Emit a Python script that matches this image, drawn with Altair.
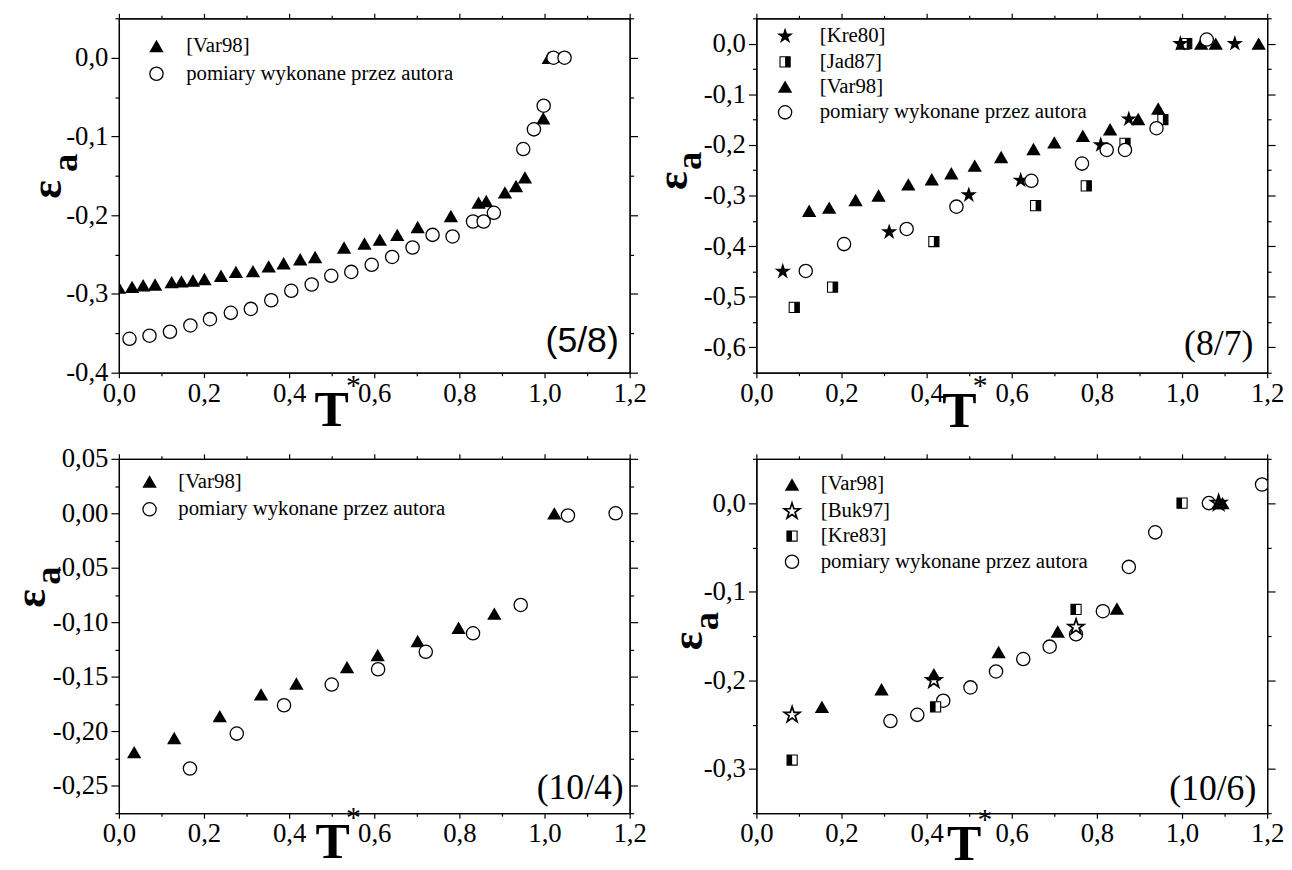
import altair as alt
import pandas as pd

SERIF = "Liberation Serif"
SANS = "Liberation Sans"

# ---------------- data ----------------
# panel (5/8)
p58_var98_T = [0.000, 0.031, 0.057, 0.085, 0.124, 0.147, 0.174, 0.201, 0.240, 0.275, 0.315, 0.352, 0.387, 0.426,
               0.461, 0.529, 0.577, 0.613, 0.654, 0.702, 0.780, 0.845, 0.863, 0.907, 0.933, 0.954, 0.997, 1.010]
p58_var98_eps = [-0.292, -0.291, -0.289, -0.288, -0.285, -0.284, -0.283, -0.281, -0.277, -0.272, -0.271, -0.265,
                 -0.261, -0.256, -0.253, -0.241, -0.236, -0.231, -0.225, -0.215, -0.201, -0.184, -0.182, -0.171,
                 -0.163, -0.152, -0.077, 0.000]
p58_own_T = [0.025, 0.072, 0.120, 0.168, 0.214, 0.263, 0.310, 0.358, 0.405, 0.453, 0.499, 0.546, 0.594, 0.642,
             0.690, 0.737, 0.784, 0.832, 0.857, 0.881, 0.950, 0.975, 0.998, 1.021, 1.047]
p58_own_eps = [-0.357, -0.353, -0.348, -0.340, -0.332, -0.324, -0.319, -0.308, -0.296, -0.288, -0.277, -0.272,
               -0.263, -0.253, -0.241, -0.225, -0.227, -0.208, -0.208, -0.197, -0.116, -0.091, -0.061, 0.000, 0.000]

# panel (8/7)
p87_kre80_T = [0.062, 0.312, 0.499, 0.621, 0.809, 0.875, 0.996, 1.124]
p87_kre80_eps = [-0.450, -0.372, -0.299, -0.270, -0.200, -0.149, 0.000, 0.000]
p87_jad87_T = [0.089, 0.179, 0.417, 0.656, 0.775, 0.866, 0.955, 1.011]
p87_jad87_eps = [-0.521, -0.481, -0.391, -0.320, -0.281, -0.197, -0.150, 0.000]
p87_var98_T = [0.124, 0.171, 0.233, 0.287, 0.357, 0.412, 0.458, 0.513, 0.575, 0.651, 0.700, 0.767, 0.831, 0.897,
               0.944, 1.002, 1.045, 1.079, 1.180]
p87_var98_eps = [-0.330, -0.324, -0.309, -0.300, -0.278, -0.268, -0.256, -0.241, -0.224, -0.208, -0.195, -0.182,
                 -0.169, -0.149, -0.128, 0.000, 0.000, 0.000, 0.000]
p87_own_T = [0.116, 0.206, 0.353, 0.470, 0.646, 0.765, 0.823, 0.866, 0.940, 1.058]
p87_own_eps = [-0.449, -0.396, -0.366, -0.322, -0.271, -0.237, -0.210, -0.210, -0.167, 0.008]

# panel (10/4)
p104_var98_T = [0.036, 0.130, 0.237, 0.334, 0.417, 0.536, 0.608, 0.702, 0.798, 0.882, 1.023]
p104_var98_eps = [-0.219, -0.206, -0.186, -0.166, -0.156, -0.141, -0.130, -0.117, -0.105, -0.092, 0.000]
p104_own_T = [0.167, 0.277, 0.388, 0.500, 0.609, 0.721, 0.832, 0.944, 1.055, 1.167]
p104_own_eps = [-0.234, -0.202, -0.176, -0.157, -0.143, -0.127, -0.110, -0.084, -0.002, 0.000]

# panel (10/6)
p106_var98_T = [0.154, 0.294, 0.417, 0.569, 0.708, 0.847, 1.085, 1.095]
p106_var98_eps = [-0.230, -0.210, -0.193, -0.168, -0.145, -0.119, 0.000, 0.000]
p106_buk97_T = [0.084, 0.417, 0.751, 1.086]
p106_buk97_eps = [-0.239, -0.200, -0.140, 0.000]
p106_kre83_T = [0.084, 0.421, 0.751, 1.000]
p106_kre83_eps = [-0.290, -0.230, -0.120, 0.000]
p106_own_T = [0.315, 0.378, 0.439, 0.503, 0.563, 0.627, 0.689, 0.751, 0.814, 0.875, 0.937, 1.063, 1.188]
p106_own_eps = [-0.246, -0.239, -0.223, -0.208, -0.190, -0.176, -0.162, -0.148, -0.122, -0.072, -0.033, 0.000,
                0.021]

# tick values / labels
T_MAJOR = [0.0, 0.2, 0.4, 0.6, 0.8, 1.0, 1.2]
T_MINOR = [0.1, 0.3, 0.5, 0.7, 0.9, 1.1]
p58_y_major = [0.0, -0.1, -0.2, -0.3, -0.4]
p58_y_minor = [0.05, -0.05, -0.15, -0.25, -0.35]
p87_y_major = [0.0, -0.1, -0.2, -0.3, -0.4, -0.5, -0.6]
p87_y_minor = [0.05, -0.05, -0.15, -0.25, -0.35, -0.45, -0.55, -0.65]
p104_y_major = [0.05, 0.0, -0.05, -0.10, -0.15, -0.20, -0.25]
p104_y_minor = [0.025, -0.025, -0.075, -0.125, -0.175, -0.225, -0.275]
p106_y_major = [0.0, -0.1, -0.2, -0.3]
p106_y_minor = [0.05, -0.05, -0.15, -0.25, -0.35]

LBL_VAR98 = "[Var98]"
LBL_KRE80 = "[Kre80]"
LBL_JAD87 = "[Jad87]"
LBL_BUK97 = "[Buk97]"
LBL_KRE83 = "[Kre83]"
LBL_OWN = "pomiary wykonane przez autora"

# ---------------- styles ----------------
STAR_PATH = ("M0,-1L0.225,-0.309L0.951,-0.309L0.363,0.118L0.588,0.809L0,0.382"
             "L-0.588,0.809L-0.363,0.118L-0.951,-0.309L-0.225,-0.309Z")
HALF_R = "M0,-1L1,-1L1,1L0,1Z"
HALF_L = "M-1,-1L0,-1L0,1L-1,1Z"

STYLES = {
    "tri": dict(shape="triangle-up", filled=True, color="black", size=210, opacity=1),
    "circ": dict(shape="circle", filled=True, fill="white", stroke="black", strokeWidth=1.3, size=180, opacity=1),
    "star": dict(shape=STAR_PATH, filled=True, color="black", size=300, opacity=1),
    "ostar": dict(shape=STAR_PATH, filled=True, fill="white", stroke="black", strokeWidth=1.7, size=280, opacity=1),
}
SQ_BASE = dict(shape="square", filled=True, fill="white", stroke="black", strokeWidth=1.1, size=105, opacity=1)

ONE = pd.DataFrame({"k": [0]})
W, H = 516, 358


def pts(T, eps):
    return pd.DataFrame({"T": T, "eps": eps})


def make_axis(orient, values, size, fmt=None):
    kw = dict(orient=orient, values=values, tickSize=size, title=None, grid=False, domain=True,
              labels=fmt is not None)
    if fmt:
        kw["labelExpr"] = "replace(replace(format(datum.value, '%s'), '.', ','), '\u2212', '-')" % fmt
    return alt.Axis(**kw)


def kind_layers(data, kind, x, y, clip):
    if kind in ("halfR", "halfL"):
        return [
            alt.Chart(data).mark_point(clip=clip, **SQ_BASE).encode(x=x, y=y),
            alt.Chart(data).mark_point(clip=clip, shape=HALF_R if kind == "halfR" else HALF_L, filled=True,
                                       color="black", size=105, opacity=1).encode(x=x, y=y),
        ]
    return [alt.Chart(data).mark_point(clip=clip, **STYLES[kind]).encode(x=x, y=y)]


def text(s, x, y, size, font=SERIF, weight="normal", angle=0, align="center", baseline="middle"):
    return alt.Chart(ONE).mark_text(text=s, fontSize=size, font=font, fontWeight=weight, angle=angle,
                                    align=align, baseline=baseline, color="black").encode(
        x=alt.value(x), y=alt.value(y))


def panel(ydom, ymaj, ymin, yfmt, series, legend, leg_mx, leg_tx, tag, tag_font, tag_xy,
          eps_xy, a_xy, T_xy, star_xy):
    xs = alt.Scale(domain=[0, 1.2], nice=False, zero=False)
    ys = alt.Scale(domain=ydom, nice=False, zero=False)
    df0 = pts(series[0][0], series[0][1])

    def frame(xa, ya):
        return alt.Chart(df0).mark_point(opacity=0).encode(
            x=alt.X("T:Q", scale=xs, axis=xa), y=alt.Y("eps:Q", scale=ys, axis=ya))

    layers = [
        frame(make_axis("bottom", T_MAJOR, 5, ".1f"), make_axis("left", ymaj, 8, yfmt)),
        frame(make_axis("top", T_MAJOR, 5), make_axis("right", ymaj, 8)),
        frame(make_axis("bottom", T_MINOR, 3), make_axis("left", ymin, 4)),
        frame(make_axis("top", T_MINOR, 3), make_axis("right", ymin, 4)),
    ]
    x = alt.X("T:Q", scale=xs, axis=None)
    y = alt.Y("eps:Q", scale=ys, axis=None)
    for T, eps, kind in series:
        layers += kind_layers(pts(T, eps), kind, x, y, True)
    for kind, label, ry in legend:
        layers += kind_layers(ONE, kind, alt.value(leg_mx), alt.value(ry), False)
        layers.append(text(label, leg_tx, ry, 21, align="left"))
    layers.append(text(tag, tag_xy[0], tag_xy[1], 36, font=tag_font, align="right"))
    layers.append(text("\u03b5", eps_xy[0], eps_xy[1], 44, weight="bold", angle=270))
    layers.append(text("a", a_xy[0], a_xy[1], 37, weight="bold", angle=270))
    layers.append(text("T", T_xy[0], T_xy[1], 52, weight="bold"))
    layers.append(text("*", star_xy[0], star_xy[1], 30))
    return alt.layer(*layers).resolve_axis(x="independent", y="independent").properties(width=W, height=H)


p1 = panel([-0.4, 0.05], p58_y_major, p58_y_minor, ".1f",
           [(p58_var98_T, p58_var98_eps, "tri"), (p58_own_T, p58_own_eps, "circ")],
           [("tri", LBL_VAR98, 28), ("circ", LBL_OWN, 56)], 38, 68,
           "(5/8)", SANS, (505, 326), (-71, 173), (-53, 146), (215, 396), (237, 372))

p2 = panel([-0.65, 0.05], p87_y_major, p87_y_minor, ".1f",
           [(p87_var98_T, p87_var98_eps, "tri"), (p87_jad87_T, p87_jad87_eps, "halfR"),
            (p87_kre80_T, p87_kre80_eps, "star"), (p87_own_T, p87_own_eps, "circ")],
           [("star", LBL_KRE80, 18), ("halfR", LBL_JAD87, 44), ("tri", LBL_VAR98, 69), ("circ", LBL_OWN, 95)],
           29, 64, "(8/7)", SERIF, (502, 329), (-83, 164), (-67, 144), (205, 397), (226, 372))

p3 = panel([-0.275, 0.05], p104_y_major, p104_y_minor, ".2f",
           [(p104_var98_T, p104_var98_eps, "tri"), (p104_own_T, p104_own_eps, "circ")],
           [("tri", LBL_VAR98, 23), ("circ", LBL_OWN, 51)], 31, 60,
           "(10/4)", SERIF, (510, 333), (-88, 141), (-70, 118), (216, 387), (237, 363))

p4 = panel([-0.35, 0.05], p106_y_major, p106_y_minor, ".1f",
           [(p106_own_T, p106_own_eps, "circ"), (p106_kre83_T, p106_kre83_eps, "halfL"),
            (p106_buk97_T, p106_buk97_eps, "ostar"), (p106_var98_T, p106_var98_eps, "tri")],
           [("tri", LBL_VAR98, 26), ("ostar", LBL_BUK97, 53), ("halfL", LBL_KRE83, 78), ("circ", LBL_OWN, 104)],
           36, 65, "(10/6)", SERIF, (505, 334), (-68, 184), (-50, 164), (210, 389), (231, 365))

chart = alt.concat(p1, p2, p3, p4, columns=2, spacing={"row": 87, "column": 128}, bounds="flush").properties(
    padding={"left": 2, "top": 0, "right": 0, "bottom": 0}, background="white"
).configure_view(stroke=None).configure_axis(
    labelFont=SERIF, labelFontSize=27, labelColor="black", tickColor="black", domainColor="black",
    domainWidth=1.3, tickWidth=1.2, grid=False, labelPadding=3, labelFlush=False, labelOverlap=False
)

chart.save("out.html", embed_options={"renderer": "svg", "actions": False})
